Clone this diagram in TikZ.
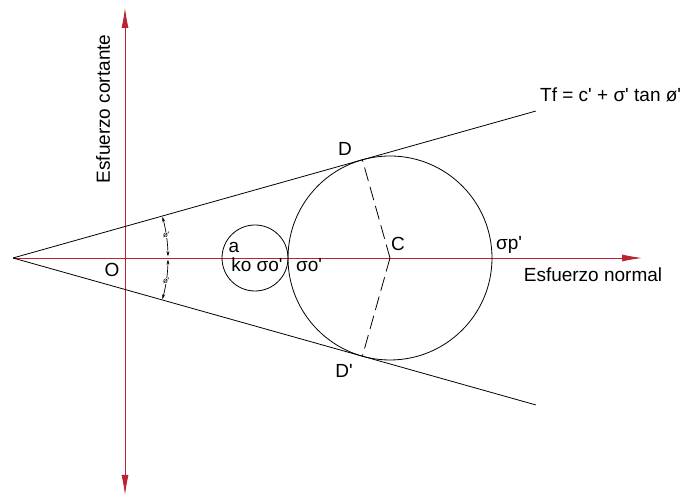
\documentclass[tikz,border=0pt]{standalone}
\usepackage{fontspec}
\setmainfont{Liberation Sans}
\usetikzlibrary{arrows.meta,calc}
\definecolor{axisred}{RGB}{185,35,50}
\newcommand{\q}{\textquotesingle}
\tikzset{
  axis/.style={draw=axisred,line width=0.8pt},
  envelope/.style={line width=0.8pt},
  radius line/.style={line width=0.8pt,dash pattern=on 14pt off 6pt},
  angmark/.style={line width=0.7pt,{Stealth[length=5pt,width=3pt]}-{Stealth[length=5pt,width=3pt]}},
  lbl/.style={inner sep=0pt,font=\fontsize{19}{21}\selectfont},
  phi/.style={inner sep=0.5pt,fill=white,font=\fontsize{8}{9}\selectfont}
}
\begin{document}
\begin{tikzpicture}[x=1pt,y=1pt]
\useasboundingbox (0,0) rectangle (689,502);
\def\ang{15.7}
\coordinate (A) at (13,244);
\coordinate (C) at (390,244);
\coordinate (T) at ($(A)+(\ang:543)$);
\coordinate (B) at ($(A)+(-\ang:543)$);
\coordinate (D) at ($(C)+(90+\ang:102)$);
\coordinate (Dp) at ($(C)+(-90-\ang:102)$);

% ejes
\draw[axis,-{Latex[length=20pt,width=7pt]}] (A) -- (642,244) coordinate (xend);
\draw[axis,{Latex[length=20pt,width=7pt]}-{Latex[length=20pt,width=7pt]}] (125,7) coordinate (ybot) -- (125,494) coordinate (ytop);

% envolvente y circulos
\draw[envelope] (A) -- (T);
\draw[envelope] (A) -- (B);
\draw[envelope] (C) circle (102);
\draw[envelope] (255,244) circle (33);
\draw[radius line] (C) -- (D);
\draw[radius line] (C) -- (Dp);

% angulos
\draw[angmark] ($(A)+(\ang-0.3:155)$) arc[start angle=\ang-0.3,end angle=0.6,radius=155];
\draw[angmark] ($(A)+(-\ang+0.3:155)$) arc[start angle=-\ang+0.3,end angle=-0.6,radius=155];
\node[phi] (phiu) at ($(A)+(8.5:155)$) {ø\q};
\node[phi] (phil) at ($(A)+(-8.5:155)$) {ø\q};

% textos
\node[lbl,anchor=west] (eq) at (540,407) {Tf = c\q{} + σ\q{} tan ø\q};
\node[lbl] (lD) at (345,353) {D};
\node[lbl] (lDp) at (344,131) {D\q};
\node[lbl] (lC) at (398,258) {C};
\node[lbl] (lsp) at (509,257) {σp\q};
\node[lbl] (lnorm) at (593,227) {Esfuerzo normal};
\node[lbl] (la) at (234,255) {a};
\node[lbl] (lko) at (257,237) {ko σo\q};
\node[lbl] (lso) at (309,237) {σo\q};
\node[lbl] (lO) at (112,232) {O};
\node[lbl,rotate=90] (lcort) at (103,393) {Esfuerzo cortante};
\end{tikzpicture}
\end{document}
